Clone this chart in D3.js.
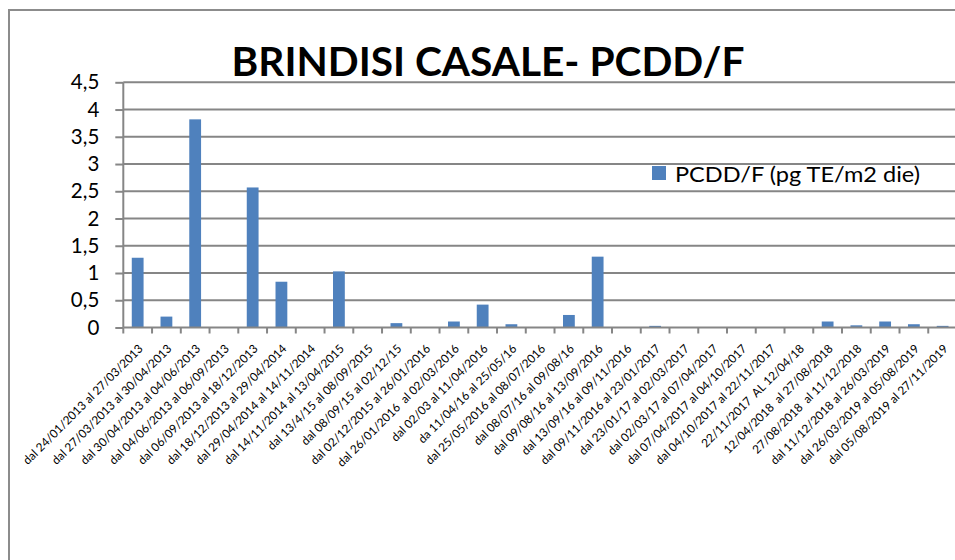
<!DOCTYPE html>
<html><head><meta charset="utf-8">
<script src="https://cdn.jsdelivr.net/npm/d3@7"></script>
<style>html,body{margin:0;padding:0;background:#fff;} svg{display:block;}</style>
</head><body>
<svg id="chart" width="955" height="560"></svg>
<script>
const categories = [
  "dal 24/01/2013 al 27/03/2013",
  "dal 27/03/2013 al 30/04/2013",
  "dal 30/04/2013 al 04/06/2013",
  "dal 04/06/2013 al 06/09/2013",
  "dal 06/09/2013 al 18/12/2013",
  "dal 18/12/2013 al 29/04/2014",
  "dal 29/04/2014 al 14/11/2014",
  "dal 14/11/2014 al 13/04/2015",
  "dal 13/4/15 al 08/09/2015",
  "dal 08/09/15 al 02/12/15",
  "dal 02/12/2015 al 26/01/2016",
  "dal 26/01/2016  al 02/03/2016",
  "dal 02/03 al 11/04/2016",
  "da 11/04/16 al 25/05/16",
  "dal 25/05/2016 al 08/07/2016",
  "dal 08/07/16 al 09/08/16",
  "dal 09/08/16 al 13/09/2016",
  "dal 13/09/16 al 09/11/2016",
  "dal 09/11/2016 al 23/01/2017",
  "dal 23/01/17 al 02/03/2017",
  "dal 02/03/17 al 07/04/2017",
  "dal 07/04/2017 al 04/10/2017",
  "dal 04/10/2017 al 22/11/2017",
  "22/11/2017  AL 12/04/18",
  "12/04/2018  al 27/08/2018",
  "27/08/2018  al 11/12/2018",
  "dal 11/12/2018 al 26/03/2019",
  "dal 26/03/2019 al 05/08/2019",
  "dal 05/08/2019 al 27/11/2019"
];
const values = [1.28, 0.2, 3.82, 0, 2.57, 0.84, 0, 1.03, 0, 0.08, 0, 0.11, 0.42, 0.06, 0, 0.23, 1.3, 0, 0.03, 0, 0, 0, 0, 0, 0.11, 0.04, 0.11, 0.06, 0.03];
const yTicks = [0, 0.5, 1, 1.5, 2, 2.5, 3, 3.5, 4, 4.5];
const seriesName = "PCDD/F (pg TE/m2 die)";
const title = "BRINDISI CASALE- PCDD/F";

const svg = d3.select("#chart");
const font = "Lato, 'Open Sans', sans-serif";
const gridColor = "#868686";
const barColor = "#4f81bd";

// outer frame
svg.append("rect").attr("x", 9).attr("y", 10).attr("width", 1000).attr("height", 600)
  .attr("fill", "none").attr("stroke", "#8c8c8c").attr("stroke-width", 2);

const plot = {left: 123.3, right: 957, top: 82.3, bottom: 327.5};

const xb = d3.scaleBand().domain(categories).range([plot.left, plot.right]);
const y = d3.scaleLinear().domain([0, 4.5]).range([plot.bottom, plot.top]);

// gridlines
svg.append("g").selectAll("line").data(yTicks.filter(d => d > 0)).join("line")
  .attr("x1", plot.left).attr("x2", plot.right)
  .attr("y1", d => y(d)).attr("y2", d => y(d))
  .attr("stroke", gridColor).attr("stroke-width", 2);

// y axis
const yAxis = svg.append("g").attr("transform", `translate(${plot.left},0)`)
  .call(d3.axisLeft(y).tickValues(yTicks).tickSize(8).tickPadding(16)
    .tickFormat(d => String(d).replace(".", ",")));
yAxis.select(".domain").attr("stroke", gridColor).attr("stroke-width", 2).attr("d", `M0,${plot.bottom}V${plot.top}`);
yAxis.selectAll(".tick line").attr("stroke", gridColor).attr("stroke-width", 2);
yAxis.selectAll(".tick text").attr("font-family", font).attr("font-size", 20.5).attr("fill", "#000");

// bars
svg.append("g").selectAll("rect").data(values).join("rect")
  .attr("x", (d, i) => xb(categories[i]) + xb.bandwidth() / 2 - 5.9)
  .attr("width", 11.8)
  .attr("y", d => y(d))
  .attr("height", d => y(0) - y(d))
  .attr("fill", barColor);

// x axis line and ticks
const xg = svg.append("g");
xg.append("line").attr("x1", plot.left).attr("x2", plot.right)
  .attr("y1", plot.bottom).attr("y2", plot.bottom)
  .attr("stroke", gridColor).attr("stroke-width", 2);
xg.selectAll("line.tk").data(categories).join("line").attr("class", "tk")
  .attr("x1", d => xb(d)).attr("x2", d => xb(d))
  .attr("y1", plot.bottom).attr("y2", plot.bottom + 6)
  .attr("stroke", gridColor).attr("stroke-width", 2);

// x labels
xg.selectAll("text").data(categories).join("text")
  .attr("transform", d => `translate(${xb(d) + xb.bandwidth() / 2 + 6},${plot.bottom + 22}) rotate(-45)`)
  .attr("text-anchor", "end")
  .attr("font-family", font).attr("font-size", 11.8).attr("fill", "#000")
  .style("white-space", "pre")
  .text(d => d);

// title
svg.append("text").attr("x", 488).attr("y", 76).attr("text-anchor", "middle")
  .attr("font-family", font).attr("font-weight", "bold").attr("font-size", 40)
  .attr("textLength", 513).attr("lengthAdjust", "spacingAndGlyphs")
  .attr("fill", "#000").text(title);

// legend
const lg = svg.append("g");
lg.append("rect").attr("x", 652).attr("y", 166).attr("width", 14).attr("height", 14).attr("fill", barColor);
lg.append("text").attr("x", 675).attr("y", 182).attr("font-family", font).attr("font-size", 22)
  .attr("textLength", 245).attr("lengthAdjust", "spacingAndGlyphs")
  .attr("fill", "#000").text(seriesName);
</script>
</body></html>
